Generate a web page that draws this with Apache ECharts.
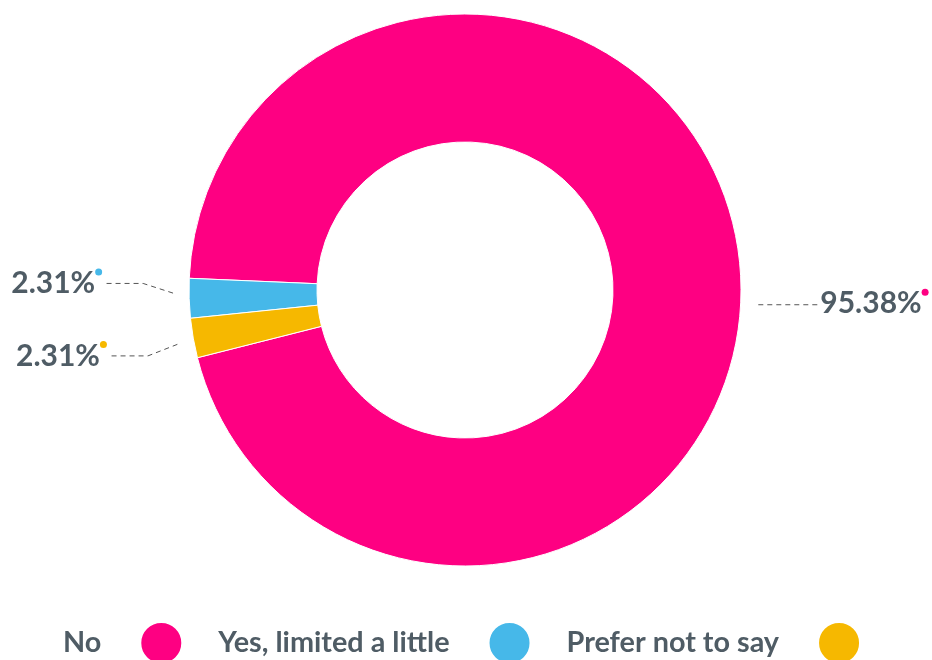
<!DOCTYPE html>
<html>
<head>
<meta charset="utf-8">
<script src="https://cdn.jsdelivr.net/npm/echarts@6/dist/echarts.min.js"></script>
<style>
html,body{margin:0;padding:0;background:#fff;}
#chart{width:932px;height:660px;}
</style>
</head>
<body>
<div id="chart"></div>
<script>
var categories = ['No', 'Yes, limited a little', 'Prefer not to say'];
var percentValues = [95.38, 2.31, 2.31];
var colors = ['#fe0082', '#46b8e9', '#f6b800'];
var dotNames = ['dotPink', 'dotBlue', 'dotYellow'];

var textColor = '#4f5c65';
var font = 'Lato';

// vertical nudges of the outside labels (px), to mimic the reference's spread
var labelShiftY = [48, -15, 11];

var rich = {
  v: { fontFamily: font, fontWeight: 'bold', fontSize: 30, color: textColor, lineHeight: 30 }
};
dotNames.forEach(function (n, i) {
  rich[n] = { width: 7, height: 7, borderRadius: 4, backgroundColor: colors[i], verticalAlign: 'top' };
});

var data = categories.map(function (c, i) {
  return { name: c, value: percentValues[i], itemStyle: { color: colors[i] } };
});

var chart = echarts.init(document.getElementById('chart'));
chart.setOption({
  animation: false,
  legend: {
    data: categories,
    left: 58,
    width: 2000,
    top: 616,
    orient: 'horizontal',
    align: 'right',
    icon: 'circle',
    itemWidth: 42,
    itemHeight: 42,
    itemGap: 35,
    selectedMode: false,
    formatter: function (name) { return '{t|' + name + '}'; },
    textStyle: {
      rich: {
        t: { fontFamily: font, fontWeight: 'bold', fontSize: 28.8, color: textColor, padding: [0, 34, 0, 0] }
      }
    }
  },
  series: [{
    type: 'pie',
    center: [465, 290],
    radius: [148, 276],
    startAngle: 194.2,
    clockwise: false,
    avoidLabelOverlap: false,
    itemStyle: { borderColor: '#fff', borderWidth: 1 },
    label: {
      show: true,
      position: 'outside',
      overflow: 'none',
      distanceToLabelLine: 1,
      formatter: function (p) {
        return '{v|' + p.value.toFixed(2) + '%}{' + dotNames[p.dataIndex] + '|}';
      },
      rich: rich
    },
    labelLine: {
      show: true,
      length: 46,
      length2: 40,
      lineStyle: { color: '#555', width: 1, type: [5, 4] }
    },
    labelLayout: function (p) {
      var i = p.dataIndex;
      var y = p.labelRect.y + p.labelRect.height / 2 + labelShiftY[i];
      if (i === 0) {
        var x = p.labelRect.x - 6;
        return {
          x: x,
          y: y,
          labelLinePoints: [[x - 62, y + 1], [x - 30, y + 1], [x - 3, y + 1]]
        };
      }
      var pts = p.labelLinePoints;
      var p1 = pts[0];
      var p2 = [pts[1][0], y];
      var start = [p1[0] + (p2[0] - p1[0]) * 0.35, p1[1] + (p2[1] - p1[1]) * 0.35];
      return {
        y: y,
        labelLinePoints: [start, p2, [pts[2][0], y]]
      };
    },
    emphasis: { disabled: true },
    data: data
  }]
});
</script>
</body>
</html>
